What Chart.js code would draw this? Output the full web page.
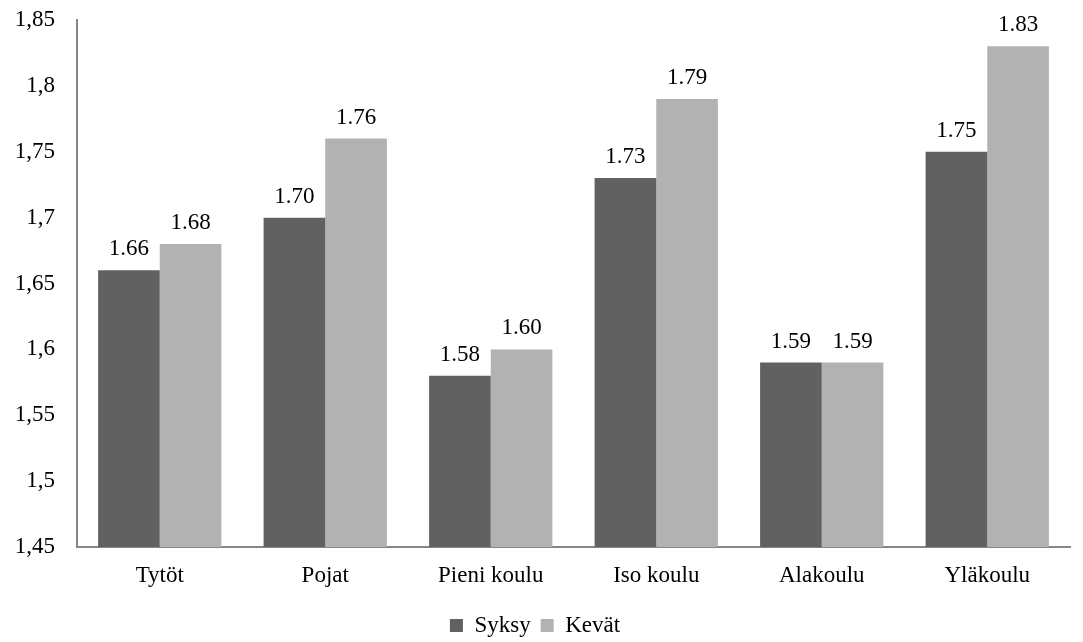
<!DOCTYPE html>
<html>
<head>
<meta charset="utf-8">
<script src="https://cdn.jsdelivr.net/npm/chart.js@4/dist/chart.umd.min.js"></script>
<style>
  html, body { margin: 0; padding: 0; background: #ffffff; }
  #wrap { width: 1083px; height: 642px; }
</style>
</head>
<body>
<div id="wrap"><canvas id="c" width="1083" height="642"></canvas></div>
<script>
const categories = ['Tytöt', 'Pojat', 'Pieni koulu', 'Iso koulu', 'Alakoulu', 'Yläkoulu'];
const syksy = [1.66, 1.70, 1.58, 1.73, 1.59, 1.75];
const kevat = [1.68, 1.76, 1.60, 1.79, 1.59, 1.83];
const seriesNames = ['Syksy', 'Kevät'];
const yMin = 1.45, yMax = 1.85, yStep = 0.05;

const FONT = '"Liberation Serif", "Times New Roman", serif';
const FS = 23;

// Writes each bar's value above it
const valueLabels = {
  id: 'valueLabels',
  afterDatasetsDraw(chart) {
    const ctx = chart.ctx;
    ctx.save();
    ctx.font = FS + 'px ' + FONT;
    ctx.fillStyle = '#000';
    ctx.textAlign = 'center';
    ctx.textBaseline = 'alphabetic';
    chart.data.datasets.forEach((ds, i) => {
      chart.getDatasetMeta(i).data.forEach((bar, j) => {
        ctx.fillText(ds.data[j].toFixed(2), bar.x, bar.y - 15);
      });
    });
    ctx.restore();
  }
};

new Chart(document.getElementById('c'), {
  type: 'bar',
  data: {
    labels: categories,
    datasets: [
      { label: seriesNames[0], data: syksy, backgroundColor: '#616161' },
      { label: seriesNames[1], data: kevat, backgroundColor: '#b2b2b2' }
    ]
  },
  options: {
    responsive: false,
    animation: false,
    devicePixelRatio: 1,
    layout: { padding: { top: 20, right: 13, left: 0, bottom: 0 } },
    categoryPercentage: 0.745,
    barPercentage: 1.0,
    plugins: {
      legend: {
        position: 'bottom',
        maxHeight: 38,
        labels: {
          font: { family: FONT, size: FS },
          color: '#000',
          boxWidth: 13,
          boxHeight: 13,
          padding: 10
        }
      },
      tooltip: { enabled: false }
    },
    scales: {
      x: {
        grid: { display: false, drawTicks: false },
        border: { display: true, color: '#868686', width: 2 },
        ticks: { font: { family: FONT, size: FS }, color: '#000', padding: 15 },
        afterFit(scale) { scale.height = 57; }
      },
      y: {
        min: yMin,
        max: yMax,
        grid: { display: false, drawTicks: false },
        border: { display: true, color: '#868686', width: 2 },
        ticks: {
          stepSize: yStep,
          font: { family: FONT, size: FS },
          color: '#000',
          padding: 22,
          callback: (v) => String(Math.round(v * 100) / 100).replace('.', ',')
        },
        afterFit(scale) {
          scale.width = 77;
          scale.paddingTop = 0;
          scale.paddingBottom = 0;
        }
      }
    }
  },
  plugins: [valueLabels]
});
</script>
</body>
</html>
